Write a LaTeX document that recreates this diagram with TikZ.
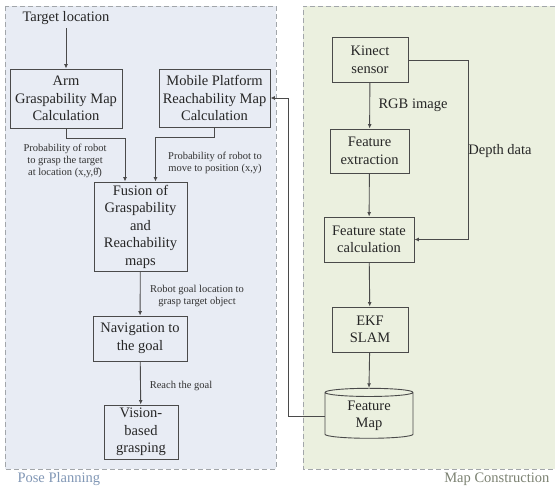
\documentclass[tikz,border=0pt]{standalone}
\usepackage{fontspec}
\setmainfont{Liberation Serif}
\usepackage{tikz}
\usetikzlibrary{arrows.meta,shapes.geometric}
\definecolor{poseback}{HTML}{E8ECF4}
\definecolor{mapback}{HTML}{EBF0DF}
\definecolor{frameline}{HTML}{A2A6AA}
\definecolor{boxline}{HTML}{4A4A4A}
\definecolor{posetext}{HTML}{8197B5}
\definecolor{maptext}{HTML}{7C8272}
\tikzset{
	box/.style={draw=boxline, line width=0.9pt, align=center, inner sep=1pt,
		font=\fontsize{14.5}{17.5}\selectfont, text=black!85},
	lbl/.style={align=center, inner sep=0.5pt, font=\fontsize{10.5}{12}\selectfont, text=black!80},
	biglbl/.style={align=center, font=\fontsize{14.5}{17}\selectfont, text=black!85},
	flow/.style={draw=boxline, line width=0.9pt, -{Latex[length=4.5pt,width=4pt]}},
	frame/.style={draw=frameline, line width=0.8pt, dash pattern=on 5pt off 3pt}
}

\begin{document}
\begin{tikzpicture}[x=1pt, y=-1pt]
	\useasboundingbox (0,0) rectangle (555,489);

	% panels
	\fill[poseback] (5,6) rectangle (276,469);
	\draw[frame] (5,6) rectangle (276,469);
	\fill[mapback] (303,6) rectangle (555,469);
	\draw[frame] (555,6) -- (303,6) -- (303,469) -- (555,469);
	\node[anchor=west, text=posetext, font=\fontsize{14.5}{14.5}\selectfont] (posetitle) at (14,479) {Pose Planning};
	\node[anchor=east, text=maptext, font=\fontsize{14.5}{14.5}\selectfont] (maptitle) at (553,479) {Map Construction};

	% pose planning
	\node[biglbl] (target) at (66,18) {Target location};
	\node[box, minimum width=112pt, minimum height=59pt] (arm) at (66,98.5) {Arm\\Graspability Map\\Calculation};
	\node[box, minimum width=111pt, minimum height=58pt] (mobile) at (214.5,98) {Mobile Platform\\Reachability Map\\Calculation};
	\node[box, minimum width=93pt, minimum height=89pt] (fusion) at (140.5,226.5) {Fusion of\\Graspability\\and\\Reachability\\maps};
	\node[box, minimum width=94pt, minimum height=45pt] (nav) at (140,338.5) {Navigation to\\the goal};
	\node[box, minimum width=74pt, minimum height=54pt] (vision) at (141,432) {Vision-\\based\\grasping};

	\draw[flow] (target) -- (arm);
	\draw[flow] (arm.south) -- ++(0,10) -| ([xshift=-15.5pt]fusion.north);
	\draw[flow] (mobile.south) -- ++(0,10) -| ([xshift=15pt]fusion.north);
	\draw[flow] (fusion) -- (nav);
	\draw[flow] (nav) -- (vision);

	\node[lbl] (graspprob) at (65,160.5) {Probability of robot\\to grasp the target\\at location (x,y,\^{θ})};
	\node[lbl] (moveprob) at (215,163) {Probability of robot to\\move to position (x,y)};
	\node[lbl] (goalloc) at (197,296) {Robot goal location to\\grasp target object};
	\node[lbl] (reach) at (181,386) {Reach the goal};

	% map construction
	\node[box, minimum width=76pt, minimum height=45pt] (kinect) at (370,60) {Kinect\\sensor};
	\node[box, minimum width=79pt, minimum height=44pt] (featext) at (369.5,151) {Feature\\extraction};
	\node[box, minimum width=90pt, minimum height=45pt] (featstate) at (369,239.5) {Feature state\\calculation};
	\node[box, minimum width=76pt, minimum height=45pt] (ekf) at (370,329.5) {EKF\\SLAM};
	\node[box, cylinder, shape border rotate=90, aspect=0.18, minimum width=88pt, minimum height=50pt] (featmap) at (369,416) {Feature\\Map};

	\draw[flow] (kinect) -- (featext);
	\draw[flow] (featext) -- (featstate);
	\draw[flow] (featstate) -- (ekf);
	\draw[flow] (ekf) -- (featmap.north);
	\draw[flow] (kinect.east) -- ++(60,0) |- (featstate.east);
	\draw[flow] (featmap.west) -- ++(-36,0) |- (mobile.east);

	\node[biglbl] (rgb) at (413,105) {RGB image};
	\node[biglbl] (depth) at (500,151) {Depth data};

\end{tikzpicture}
\end{document}
